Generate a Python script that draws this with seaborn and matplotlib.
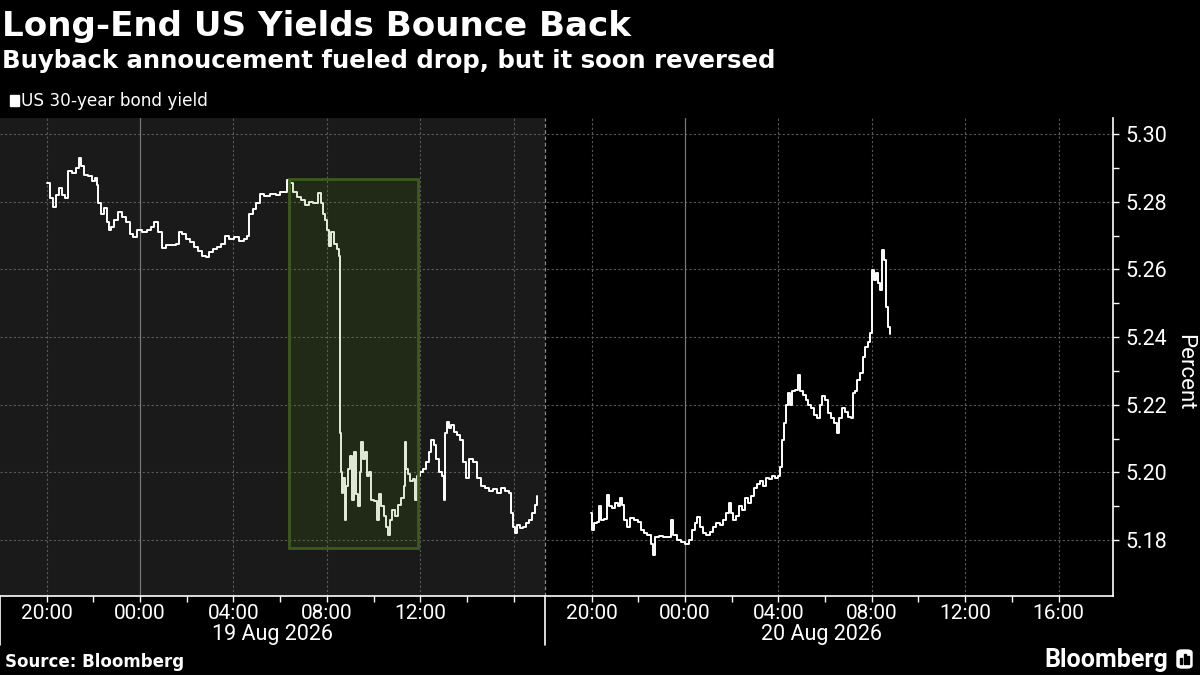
import numpy as np
import pandas as pd
import seaborn as sns
import matplotlib.pyplot as plt
import matplotlib.patches as mpatches

# US 30-year yield
# minutes after the 18:00 session open, yield in percent
day1_minutes = [121, 128, 136, 144, 152, 159, 167, 175, 185, 195, 203, 208, 216, 226, 236, 244, 249, 252,
                260, 267, 275, 280, 285, 293, 303, 313, 324, 334, 342, 352, 365, 378, 388, 396, 406, 416,
                427, 439, 452, 460, 468, 478, 488, 498, 509, 519, 529, 537, 547, 558, 568, 578, 588, 601,
                614, 627, 635, 640, 650, 658, 668, 678, 694, 709, 720, 730, 737, 745, 753, 763, 773, 784,
                794, 804, 817, 825, 830, 835, 840, 845, 851, 858, 866, 871, 874, 876, 879, 881, 886, 889,
                894, 899, 904, 910, 915, 920, 925, 928, 933, 938, 943, 948, 953, 961, 969, 974, 979, 987,
                992, 997, 1002, 1007, 1015, 1023, 1030, 1038, 1041, 1043, 1048, 1054, 1061, 1066, 1072,
                1079, 1087, 1095, 1102, 1108, 1115, 1120, 1128, 1136, 1141, 1143, 1149, 1154, 1159, 1167,
                1174, 1182, 1190, 1197, 1205, 1215, 1226, 1236, 1246, 1257, 1267, 1277, 1287, 1298, 1308,
                1313, 1318, 1323, 1328, 1336, 1344, 1352, 1359, 1367, 1375, 1380]
day1_yield = [5.2856, 5.2810, 5.2785, 5.2820, 5.2840, 5.2820, 5.2810, 5.2890, 5.2885, 5.2900, 5.2930,
              5.2905, 5.2880, 5.2875, 5.2860, 5.2870, 5.2850, 5.2796, 5.2765, 5.2780, 5.2740, 5.2715,
              5.2725, 5.2745, 5.2770, 5.2755, 5.2740, 5.2705, 5.2695, 5.2715, 5.2712, 5.2715, 5.2725,
              5.2740, 5.2710, 5.2663, 5.2673, 5.2672, 5.2675, 5.2712, 5.2705, 5.2690, 5.2680, 5.2665,
              5.2655, 5.2640, 5.2636, 5.2650, 5.2660, 5.2665, 5.2675, 5.2700, 5.2690, 5.2695, 5.2685,
              5.2690, 5.2700, 5.2763, 5.2778, 5.2795, 5.2823, 5.2818, 5.2822, 5.2820, 5.2830, 5.2830,
              5.2864, 5.2855, 5.2830, 5.2815, 5.2805, 5.2790, 5.2800, 5.2795, 5.2825, 5.2796, 5.2765,
              5.2745, 5.2715, 5.2670, 5.2712, 5.2675, 5.2660, 5.2640, 5.2116, 5.2000, 5.1940, 5.1985,
              5.1860, 5.1960, 5.2010, 5.2050, 5.1920, 5.2060, 5.1935, 5.1900, 5.2000, 5.2090, 5.2040,
              5.2060, 5.1990, 5.2000, 5.1920, 5.1915, 5.1860, 5.1935, 5.1900, 5.1870, 5.1840, 5.1815,
              5.1860, 5.1890, 5.1870, 5.1905, 5.1925, 5.1960, 5.2090, 5.2010, 5.1995, 5.1975, 5.1980,
              5.1920, 5.1990, 5.2000, 5.2010, 5.2030, 5.2060, 5.2095, 5.2080, 5.2040, 5.2000, 5.1990,
              5.1920, 5.2117, 5.2150, 5.2130, 5.2140, 5.2120, 5.2110, 5.2095, 5.2030, 5.1985, 5.2040,
              5.2030, 5.1985, 5.1960, 5.1955, 5.1945, 5.1950, 5.1940, 5.1955, 5.1945, 5.1940, 5.1880,
              5.1840, 5.1820, 5.1845, 5.1835, 5.1840, 5.1850, 5.1860, 5.1880, 5.1905, 5.1930]

day2_minutes = [118, 121, 126, 134, 139, 144, 152, 159, 164, 172, 180, 188, 193, 198, 203, 211, 218, 229,
                239, 247, 254, 262, 272, 278, 283, 293, 303, 313, 324, 329, 339, 349, 360, 370, 378, 385,
                391, 398, 406, 414, 424, 432, 439, 450, 457, 465, 473, 478, 483, 491, 498, 506, 514, 522,
                529, 537, 545, 552, 560, 568, 576, 583, 591, 599, 604, 609, 614, 619, 624, 630, 635, 642,
                650, 655, 663, 671, 676, 684, 691, 699, 707, 712, 719, 727, 735, 743, 750, 755, 763, 771,
                778, 786, 791, 797, 802, 809, 817, 822, 830, 835, 840, 845, 850, 856, 861, 866, 871, 876,
                881, 886]
day2_yield = [5.1880, 5.1830, 5.1850, 5.1855, 5.1900, 5.1860, 5.1862, 5.1934, 5.1900, 5.1895, 5.1910,
              5.1900, 5.1925, 5.1905, 5.1860, 5.1840, 5.1865, 5.1860, 5.1855, 5.1830, 5.1820, 5.1815,
              5.1790, 5.1756, 5.1810, 5.1812, 5.1810, 5.1808, 5.1860, 5.1815, 5.1800, 5.1795, 5.1790,
              5.1800, 5.1830, 5.1850, 5.1869, 5.1840, 5.1820, 5.1815, 5.1825, 5.1840, 5.1850, 5.1845,
              5.1860, 5.1880, 5.1910, 5.1880, 5.1860, 5.1870, 5.1900, 5.1890, 5.1925, 5.1910, 5.1930,
              5.1955, 5.1965, 5.1975, 5.1960, 5.1985, 5.1980, 5.1990, 5.1985, 5.1990, 5.2017, 5.2095,
              5.2147, 5.2200, 5.2235, 5.2200, 5.2240, 5.2245, 5.2288, 5.2240, 5.2230, 5.2215, 5.2200,
              5.2190, 5.2170, 5.2160, 5.2200, 5.2225, 5.2215, 5.2175, 5.2160, 5.2146, 5.2118, 5.2160,
              5.2190, 5.2180, 5.2165, 5.2160, 5.2235, 5.2240, 5.2273, 5.2294, 5.2340, 5.2370, 5.2385,
              5.2412, 5.2598, 5.2570, 5.2590, 5.2560, 5.2540, 5.2657, 5.2628, 5.2490, 5.2430, 5.2410]

# sessions: 18:00 -> 17:20 on day one, 18:00 -> 18:20 on day two
day1_len = 23 + 20 / 60
day2_len = 24 + 20 / 60
day_labels = ['19 Aug 2026', '20 Aug 2026']

# buyback announcement window (hours after open on day one) and its yield range
box_start, box_end = 12 + 23 / 60, 17 + 55 / 60
box_low, box_high = 5.1776, 5.2868

y_ticks = [5.18, 5.20, 5.22, 5.24, 5.26, 5.28, 5.30]

df1 = pd.DataFrame({'t': np.array(day1_minutes) / 60, 'yield': day1_yield})
df2 = pd.DataFrame({'t': day1_len + np.array(day2_minutes) / 60, 'yield': day2_yield})

sns.set_theme(style='dark', rc={'figure.facecolor': 'black', 'axes.facecolor': 'black',
                                'text.color': 'white', 'axes.labelcolor': 'white',
                                'xtick.color': 'white', 'ytick.color': 'white'})
plt.rcParams['font.family'] = ['Roboto', 'DejaVu Sans']
wide = ['DejaVu Sans']

fig = plt.figure(figsize=(12, 6.75), dpi=100)
ax = fig.add_axes([0, 0.117, 0.9275, 0.708])

# shade first session
ax.axvspan(0, day1_len, color='#1a1a1a', zorder=0, lw=0)

# grid
for y in y_ticks:
    ax.axhline(y, color='#5a5a5a', lw=0.8, ls=(0, (2, 2)), zorder=1)
for off in [0, day1_len]:
    for h in [2, 10, 14, 18, 22]:
        ax.axvline(off + h, color='#5a5a5a', lw=0.8, ls=(0, (2, 2)), zorder=1)
    ax.axvline(off + 6, color='#777777', lw=0.9, zorder=1)
ax.axvline(day1_len, color='#8a8a8a', lw=0.9, ls=(0, (3, 2)), zorder=1)

sns.lineplot(data=df1, x='t', y='yield', ax=ax, color='white', lw=1.4,
             drawstyle='steps-post', estimator=None, zorder=3)
sns.lineplot(data=df2, x='t', y='yield', ax=ax, color='white', lw=1.4,
             drawstyle='steps-post', estimator=None, zorder=3)

ax.add_patch(mpatches.Rectangle((box_start, box_low), box_end - box_start, box_high - box_low,
                                facecolor='#4a8a00', alpha=0.15, edgecolor='none', zorder=4))
ax.add_patch(mpatches.Rectangle((box_start, box_low), box_end - box_start, box_high - box_low,
                                facecolor='none', edgecolor='#3c5a1e', lw=2, zorder=4))

ax.set_xlim(0, day1_len + day2_len)
ax.set_ylim(5.1635, 5.3047)

# x ticks every 2h, labels every 4h
ticks, labels = [], []
for off, last_label in [(0, 18), (day1_len, 22)]:
    for h in range(2, 23, 2):
        ticks.append(off + h)
        labels.append(f'{(18 + h) % 24:02d}:00' if (h - 2) % 4 == 0 and h <= last_label else '')
ax.set_xticks(ticks)
ax.set_xticklabels(labels, fontsize=15)
ax.tick_params(axis='x', direction='out', length=4, width=1, pad=2, bottom=True)

ax.yaxis.tick_right()
ax.set_yticks(y_ticks)
ax.set_yticklabels([f'{v:.2f}' for v in y_ticks], fontsize=15.5)
ax.set_yticks([v + 0.01 for v in y_ticks[:-1]], minor=True)
ax.tick_params(axis='y', which='both', direction='out', length=4, width=1, pad=5, right=True)
ax.set_xlabel('')
ax.set_ylabel('')

for side in ['top', 'left']:
    ax.spines[side].set_visible(False)
for side in ['bottom', 'right']:
    ax.spines[side].set_visible(True)
    ax.spines[side].set_color('white')
    ax.spines[side].set_linewidth(1.2)

# session separators below the axis and date labels
for x in [0, day1_len]:
    ax.axvline(x, ymin=-0.103, ymax=0, color='white', lw=1.2, clip_on=False)
ax.text(day1_len / 2, -0.08, day_labels[0], transform=ax.get_xaxis_transform(),
        ha='center', va='center', fontsize=15.5, color='white')
ax.text(day1_len + day2_len / 2 - 0.3, -0.08, day_labels[1], transform=ax.get_xaxis_transform(),
        ha='center', va='center', fontsize=15.5, color='white')

fig.text(1185 / 1200, 1 - 372 / 675, 'Percent', rotation=270, ha='center', va='center',
         fontsize=16, color='white')

# titles and legend
fig.text(0.002, 1 - 36 / 675, 'Long-End US Yields Bounce Back', fontsize=24.6, fontweight='bold',
         family=wide, color='white', va='baseline')
fig.text(0.002, 1 - 68 / 675, 'Buyback annoucement fueled drop, but it soon reversed', fontsize=17.6,
         fontweight='bold', family=wide, color='white', va='baseline')
fig.patches.append(mpatches.Rectangle((10 / 1200, 1 - 106 / 675), 9 / 1200, 11 / 675,
                                      transform=fig.transFigure, color='white'))
fig.text(21 / 1200, 1 - 106.5 / 675, 'US 30-year bond yield', fontsize=12.2, family=wide,
         color='white', va='baseline')

fig.text(5 / 1200, 1 - 667 / 675, 'Source: Bloomberg', fontsize=12, fontweight='bold',
         family=wide, color='white', va='baseline')
fig.text(1168 / 1200, 1 - 667 / 675, 'Bloomberg', fontsize=18, fontweight='bold',
         color='white', va='baseline', ha='right')
fig.patches.append(mpatches.FancyBboxPatch((1177 / 1200, 1 - 668 / 675), 15 / 1200, 18 / 675,
                                           boxstyle='round,pad=0,rounding_size=0.004',
                                           transform=fig.transFigure, color='white'))
# little bar glyph inside the logo square
for i, hgt in enumerate([6, 10, 8]):
    fig.patches.append(mpatches.Rectangle(((1180 + 3.5 * i) / 1200, 1 - 664 / 675), 2 / 1200, hgt / 675,
                                          transform=fig.transFigure, color='black'))

fig.savefig('out.png', dpi=100, facecolor='black')
